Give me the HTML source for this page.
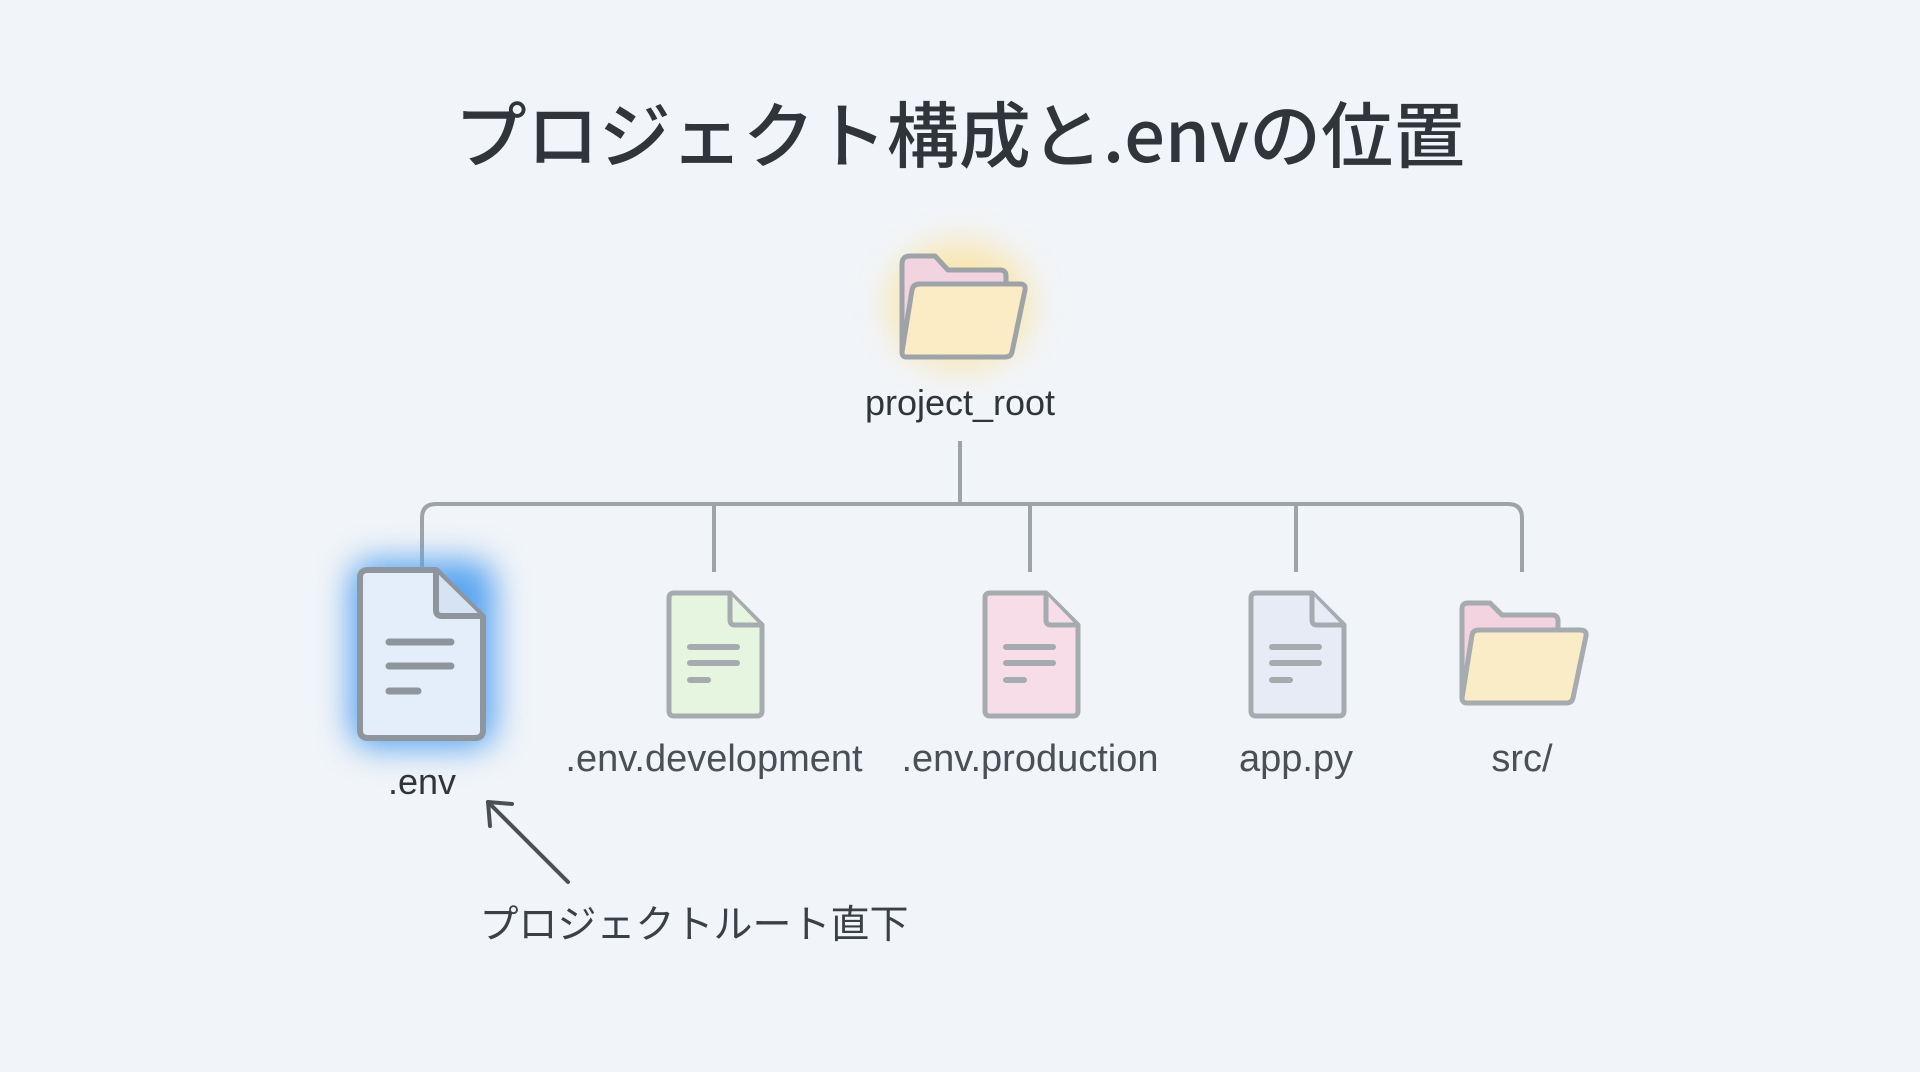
<!DOCTYPE html>
<html><head><meta charset="utf-8"><style>
html,body{margin:0;padding:0;width:1920px;height:1072px;overflow:hidden;background:#f1f4f8;}
svg{display:block}
text{font-family:"Liberation Sans","Noto Sans CJK JP",sans-serif;fill:#2f353b}
</style></head><body>
<svg width="1920" height="1072" viewBox="0 0 1920 1072">
<defs>
<filter id="blur" x="-50%" y="-50%" width="200%" height="200%"><feGaussianBlur stdDeviation="16"/></filter>
</defs>
<rect width="1920" height="1072" fill="#f1f4f8"/>
<text x="960" y="162" text-anchor="middle" font-size="72" font-weight="500" style="font-family:'Noto Sans CJK JP','Liberation Sans',sans-serif" fill="#2d3339">プロジェクト構成と.envの位置</text>

<ellipse cx="960" cy="305" rx="72" ry="64" fill="#fbe3a0" filter="url(#blur)" opacity="0.8"/>
<g stroke="#9ea3a8" stroke-width="5" stroke-linejoin="round">
<path d="M902 352 V264 Q902 256 910 256 H935 L948 270 H1000 Q1006 270 1006 276 V285" fill="#f2d3e0"/>
<path d="M902 352 L912 290 Q913 284 920 284 H1020 Q1026 284 1025 290 L1012 352 Q1011 357 1005 357 H906 Q902 357 902 352 Z" fill="#fcecc6"/>
</g>
<text x="960" y="415" text-anchor="middle" font-size="36">project_root</text>

<g stroke="#9ea3a8" stroke-width="4" fill="none">
<path d="M960 441 V504"/>
<path d="M422 569 V518 Q422 504 436 504 H1508 Q1522 504 1522 518 V572"/>
<path d="M714 504 V572"/>
<path d="M1030 504 V572"/>
<path d="M1296 504 V572"/>
</g>

<rect x="350" y="560" width="145" height="188" rx="24" fill="#5aa5f0" filter="url(#blur)" opacity="1"/>
<g stroke="#8e959c" stroke-width="6" stroke-linejoin="round">
<path d="M368 570 H436 L483 617 V730 Q483 738 475 738 H368 Q360 738 360 730 V578 Q360 570 368 570 Z" fill="#e3eefa"/>
<path d="M436 572 V610 Q436 616 442 616 H481" fill="#d6e3f2"/>
</g>
<g stroke="#8e959c" stroke-width="7" stroke-linecap="round">
<path d="M389 642 H451 M389 666 H451 M389 691 H418"/>
</g>
<text x="422" y="794" text-anchor="middle" font-size="36">.env</text>

<g stroke="#a6abb0" stroke-width="5" stroke-linejoin="round">
<path d="M674 593 H730 L762 625 V711 Q762 716 757 716 H674 Q669 716 669 711 V598 Q669 593 674 593 Z" fill="#e6f5df"/>
<path d="M730 594 V620 Q730 625 735 625 H760" fill="#e6f5df"/>
<path d="M990 593 H1046 L1078 625 V711 Q1078 716 1073 716 H990 Q985 716 985 711 V598 Q985 593 990 593 Z" fill="#f7dde7"/>
<path d="M1046 594 V620 Q1046 625 1051 625 H1076" fill="#f7dde7"/>
<path d="M1256 593 H1312 L1344 625 V711 Q1344 716 1339 716 H1256 Q1251 716 1251 711 V598 Q1251 593 1256 593 Z" fill="#e6ebf6"/>
<path d="M1312 594 V620 Q1312 625 1317 625 H1342" fill="#e6ebf6"/>
</g>
<g stroke="#a6abb0" stroke-width="6" stroke-linecap="round">
<path d="M690 647 H737 M690 663 H737 M690 680 H708"/>
<path d="M1006 647 H1053 M1006 663 H1053 M1006 680 H1024"/>
<path d="M1272 647 H1319 M1272 663 H1319 M1272 680 H1290"/>
</g>
<g stroke="#a6abb0" stroke-width="5" stroke-linejoin="round">
<path d="M1462 698 V609 Q1462 603 1468 603 H1490 L1502 615 H1552 Q1558 615 1558 621 V630" fill="#f4d3e0"/>
<path d="M1462 698 L1472 635 Q1473 630 1479 630 H1580 Q1587 630 1586 636 L1573 698 Q1572 703 1566 703 H1467 Q1462 703 1462 698 Z" fill="#fbecc8"/>
</g>

<g font-size="38">
<text x="714" y="771" text-anchor="middle" style="fill:#4a5056">.env.development</text>
<text x="1030" y="771" text-anchor="middle" style="fill:#4a5056">.env.production</text>
<text x="1296" y="771" text-anchor="middle" style="fill:#4a5056">app.py</text>
<text x="1522" y="771" text-anchor="middle" style="fill:#4a5056">src/</text>
</g>

<g stroke="#4a5056" stroke-width="4" fill="none" stroke-linecap="round">
<path d="M568 882 L488 802"/>
<path d="M488 802 L490 826 M488 802 L512 804"/>
</g>
<text x="694" y="938" text-anchor="middle" font-size="39" style="fill:#3a4046">プロジェクトルート直下</text>
</svg>
</body></html>
